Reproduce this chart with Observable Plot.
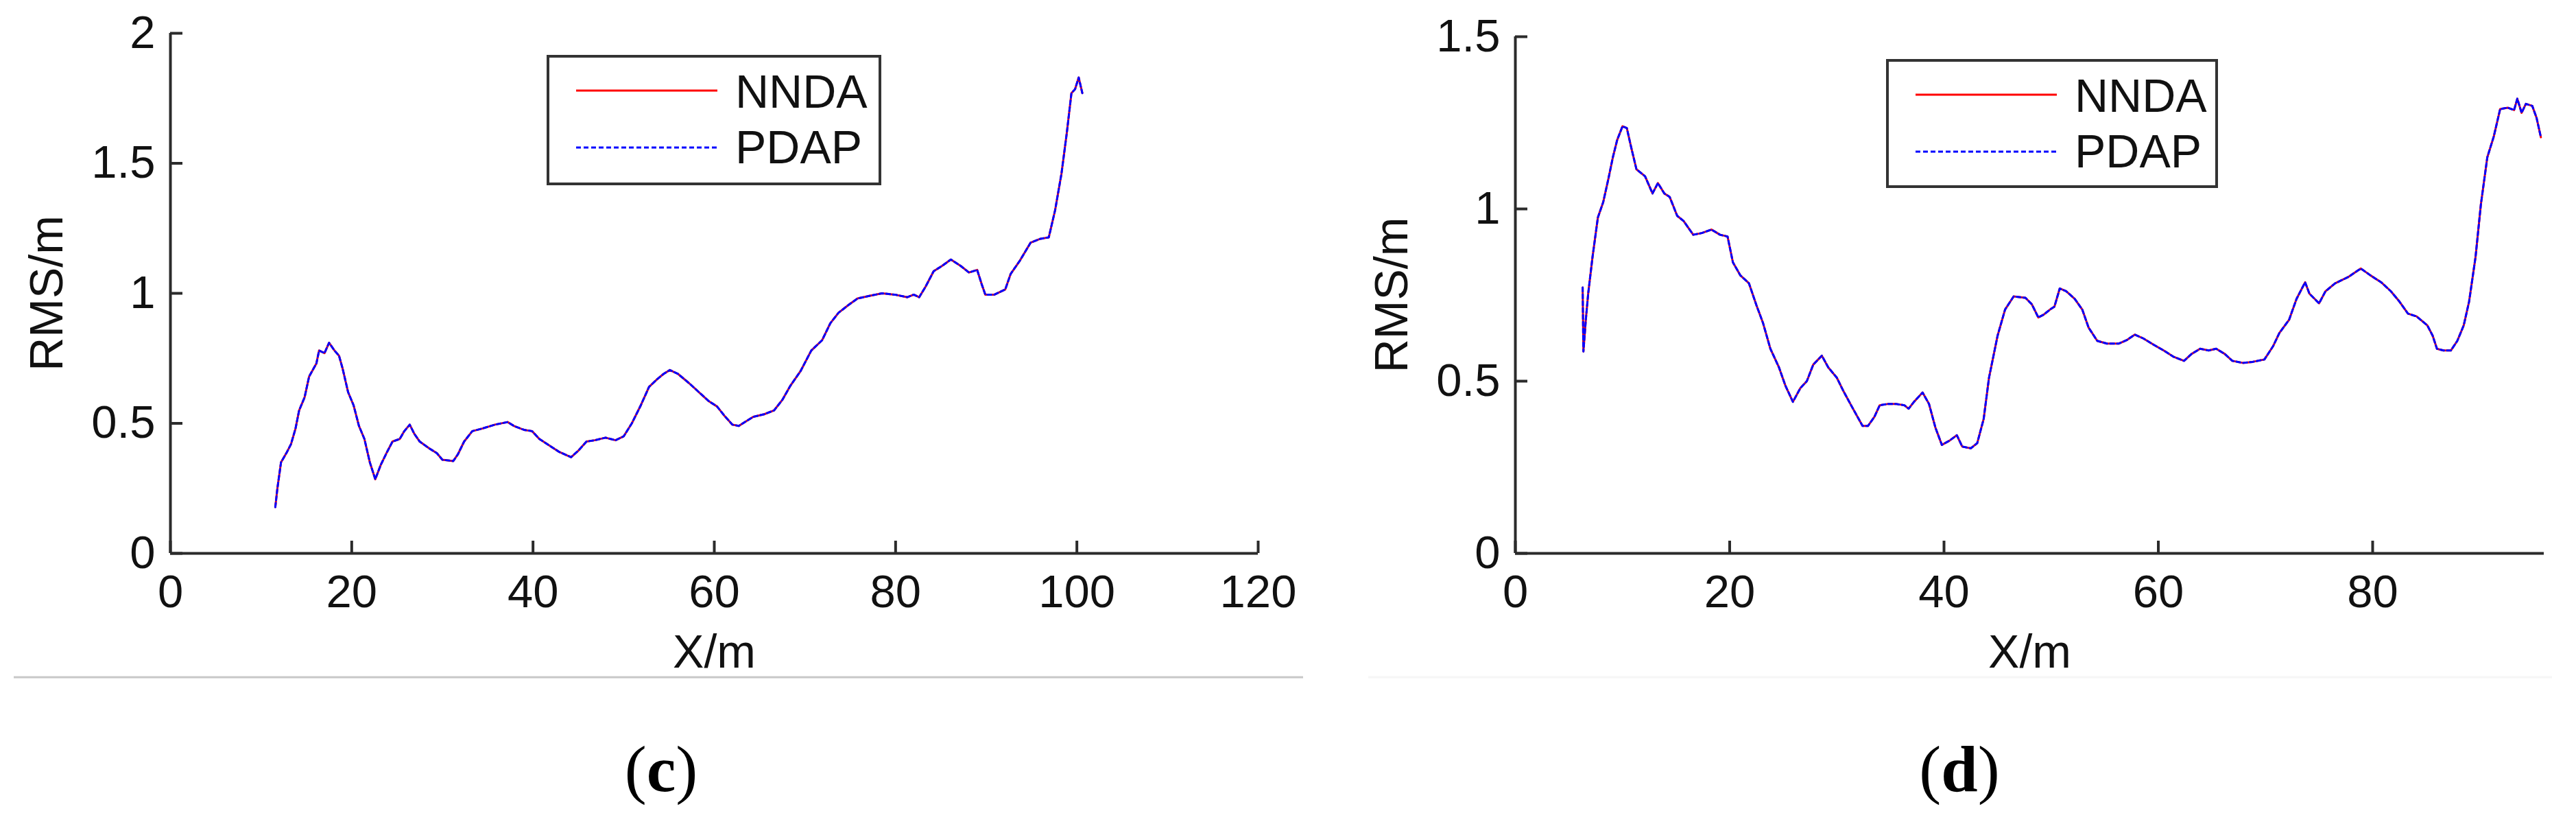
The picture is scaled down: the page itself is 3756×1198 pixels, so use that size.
<!DOCTYPE html>
<html>
<head>
<meta charset="utf-8">
<script src="https://cdn.jsdelivr.net/npm/d3@7"></script>
<script src="https://cdn.jsdelivr.net/npm/@observablehq/plot@0.6"></script>
<style>
  html, body { margin: 0; padding: 0; background: #fff; }
  #wrap { position: relative; width: 3756px; height: 1198px; overflow: hidden; background: #fff; }
  .panel { position: absolute; top: 0; }
  #overlay { position: absolute; left: 0; top: 0; pointer-events: none; }
</style>
</head>
<body>
<div id="wrap">
  <div id="left" class="panel" style="left:0px"></div>
  <div id="right" class="panel" style="left:1900px"></div>
  <svg id="overlay" width="3756" height="1198"></svg>
</div>
<script>
// ---------- Data: panel (c) ----------
const cX = [11.57, 11.8, 12.2, 12.86, 13.3, 13.8, 14.2, 14.8, 15.3, 16.1, 16.4, 17.0, 17.5, 18.1, 18.6, 19.0, 19.6, 20.2, 20.8, 21.4, 22.0, 22.6, 23.2, 23.9, 24.5, 25.3, 25.8, 26.4, 26.9, 27.5, 28.5, 29.4, 30.0, 31.2, 31.7, 32.4, 33.3, 34.4, 35.8, 37.2, 37.9, 39.0, 39.9, 40.7, 41.8, 42.9, 44.2, 45.0, 45.9, 46.8, 48.0, 49.1, 50.0, 50.9, 51.9, 52.8, 53.7, 54.4, 55.1, 56.0, 57.2, 58.3, 59.4, 60.3, 61.1, 62.0, 62.7, 63.6, 64.3, 65.5, 66.6, 67.5, 68.4, 69.5, 70.7, 71.9, 72.8, 73.7, 74.8, 75.8, 77.1, 78.5, 79.9, 81.3, 82.0, 82.6, 83.3, 84.2, 85.1, 86.1, 87.2, 88.1, 89.0, 89.5, 89.9, 90.9, 92.1, 92.7, 93.7, 94.9, 96.0, 96.9, 97.6, 98.3, 98.9, 99.4, 99.8, 100.2, 100.6];
const cNNDA = [0.178, 0.25, 0.35, 0.39, 0.42, 0.48, 0.55, 0.60, 0.68, 0.73, 0.78, 0.77, 0.81, 0.78, 0.76, 0.71, 0.62, 0.57, 0.49, 0.44, 0.35, 0.285, 0.34, 0.39, 0.43, 0.44, 0.47, 0.495, 0.46, 0.43, 0.405, 0.385, 0.36, 0.355, 0.38, 0.43, 0.47, 0.48, 0.495, 0.505, 0.49, 0.475, 0.47, 0.44, 0.415, 0.39, 0.37, 0.395, 0.43, 0.435, 0.445, 0.435, 0.45, 0.50, 0.57, 0.64, 0.67, 0.69, 0.705, 0.69, 0.655, 0.62, 0.585, 0.565, 0.53, 0.495, 0.49, 0.51, 0.525, 0.535, 0.55, 0.59, 0.645, 0.70, 0.78, 0.82, 0.885, 0.925, 0.955, 0.98, 0.99, 1.0, 0.995, 0.985, 0.995, 0.985, 1.025, 1.085, 1.105, 1.13, 1.105, 1.08, 1.09, 1.035, 0.995, 0.995, 1.015, 1.075, 1.125, 1.195, 1.21, 1.215, 1.32, 1.46, 1.62, 1.77, 1.785, 1.83, 1.77];
const cPDAP = cNNDA.slice(); // the two curves coincide in the figure
const cXTicks = [0, 20, 40, 60, 80, 100, 120];
const cYTicks = [0, 0.5, 1, 1.5, 2];

// ---------- Data: panel (d) ----------
const dX = [6.28, 6.35, 6.58, 6.8, 7.2, 7.7, 8.2, 8.7, 9.1, 9.5, 10.0, 10.4, 10.8, 11.3, 12.1, 12.8, 13.3, 13.9, 14.4, 15.1, 15.7, 16.6, 17.4, 18.3, 19.1, 19.8, 20.3, 21.0, 21.8, 22.5, 23.1, 23.8, 24.6, 25.2, 25.9, 26.6, 27.2, 27.8, 28.6, 29.2, 30.0, 30.6, 31.4, 32.4, 32.9, 33.5, 34.0, 34.8, 35.5, 36.3, 36.7, 37.2, 38.0, 38.6, 39.2, 39.8, 40.5, 41.2, 41.7, 42.5, 43.1, 43.7, 44.2, 45.0, 45.7, 46.5, 47.6, 48.2, 48.8, 49.3, 49.9, 50.3, 50.8, 51.4, 52.2, 52.9, 53.5, 54.3, 55.2, 56.3, 57.1, 57.8, 58.6, 59.6, 60.5, 61.4, 62.4, 63.1, 63.9, 64.7, 65.4, 66.2, 66.9, 67.9, 68.8, 69.9, 70.7, 71.3, 72.2, 72.9, 73.7, 74.1, 75.0, 75.6, 76.5, 77.7, 78.9, 79.8, 80.8, 81.7, 82.5, 83.3, 84.1, 85.1, 85.6, 86.0, 86.6, 87.3, 87.9, 88.5, 89.0, 89.6, 90.1, 90.7, 91.3, 91.9, 92.6, 93.2, 93.5, 93.9, 94.3, 94.9, 95.3, 95.7];
const dNNDA = [0.772, 0.586, 0.68, 0.755, 0.86, 0.975, 1.02, 1.09, 1.15, 1.20, 1.24, 1.235, 1.18, 1.115, 1.095, 1.045, 1.075, 1.045, 1.035, 0.98, 0.965, 0.925, 0.93, 0.94, 0.925, 0.92, 0.845, 0.807, 0.784, 0.72, 0.67, 0.594, 0.54, 0.487, 0.44, 0.48, 0.50, 0.548, 0.574, 0.54, 0.51, 0.472, 0.426, 0.37, 0.37, 0.396, 0.43, 0.434, 0.434, 0.43, 0.42, 0.44, 0.467, 0.434, 0.365, 0.315, 0.327, 0.343, 0.31, 0.305, 0.32, 0.39, 0.51, 0.632, 0.708, 0.746, 0.742, 0.723, 0.685, 0.693, 0.708, 0.716, 0.769, 0.761, 0.739, 0.708, 0.655, 0.617, 0.609, 0.609, 0.62, 0.635, 0.624, 0.605, 0.589, 0.571, 0.559, 0.579, 0.594, 0.589, 0.594, 0.579, 0.559, 0.553, 0.556, 0.563, 0.601, 0.64, 0.678, 0.739, 0.787, 0.754, 0.726, 0.761, 0.784, 0.802, 0.827, 0.807, 0.787, 0.761, 0.731, 0.696, 0.688, 0.662, 0.632, 0.594, 0.589, 0.589, 0.617, 0.662, 0.731, 0.86, 1.013, 1.15, 1.21, 1.29, 1.294, 1.287, 1.32, 1.279, 1.305, 1.299, 1.264, 1.208];
const dPDAP = dNNDA.slice();
const dXTicks = [0, 20, 40, 60, 80];
const dYTicks = [0, 0.5, 1, 1.5];

const seriesNames = ["NNDA", "PDAP"];
const seriesColors = ["#ff0000", "#0000ff"];
const captions = ["c", "d"];

const FONT = "'Liberation Sans', Arial, Helvetica, sans-serif";
const AXIS = "#2b2b2b";

function panel({xs, a, b, xDomain, yDomain, xTicks, yTicks, width, marginLeft, marginRight, marginTop}) {
  const height = 1000;
  const A = xs.map((x, i) => ({x, y: a[i]}));
  const B = xs.map((x, i) => ({x, y: b[i]}));
  return Plot.plot({
    width, height, marginLeft, marginRight, marginTop, marginBottom: 194,
    x: {domain: xDomain, label: null},
    y: {domain: yDomain, label: null},
    style: {fontFamily: FONT, fontSize: "67px", color: "#111", background: "transparent", overflow: "visible"},
    marks: [
      Plot.line(A, {x: "x", y: "y", stroke: seriesColors[0], strokeWidth: 3}),
      Plot.line(B, {x: "x", y: "y", stroke: seriesColors[1], strokeWidth: 3, strokeDasharray: "6,4"}),
      Plot.ruleY([yDomain[0]], {stroke: AXIS, strokeWidth: 4}),
      Plot.ruleX([xDomain[0]], {stroke: AXIS, strokeWidth: 4}),
      Plot.axisX(xTicks, {tickSize: -18, tickPadding: 49, strokeWidth: 4, stroke: AXIS, fontSize: 67, tickFormat: d => String(d), label: null}),
      Plot.axisY(yTicks, {tickSize: -18, tickPadding: 40, strokeWidth: 4, stroke: AXIS, fontSize: 67, tickFormat: d => String(d), label: null}),
      Plot.text(["RMS/m"], {text: d => d, frameAnchor: "left", dx: -206, rotate: -90, lineAnchor: "top", textAnchor: "middle", fontSize: 68, fill: "#111"}),
      Plot.text(["X/m"], {text: d => d, frameAnchor: "bottom", dy: 166, lineAnchor: "bottom", textAnchor: "middle", fontSize: 68, fill: "#111"})
    ]
  });
}

document.getElementById("left").append(panel({
  xs: cX, a: cNNDA, b: cPDAP, xDomain: [0, 120], yDomain: [0, 2],
  xTicks: cXTicks, yTicks: cYTicks, width: 1900, marginLeft: 248, marginRight: 66, marginTop: 48
}));
document.getElementById("right").append(panel({
  xs: dX, a: dNNDA, b: dPDAP, xDomain: [0, 96], yDomain: [0, 1.5],
  xTicks: dXTicks, yTicks: dYTicks, width: 1856, marginLeft: 309, marginRight: 47, marginTop: 53
}));

// ---------- Overlay: legends, separators, captions ----------
const ov = d3.select("#overlay");
// separator lines
ov.append("line").attr("x1", 20).attr("x2", 1900).attr("y1", 987).attr("y2", 987).attr("stroke", "#c8c8c8").attr("stroke-width", 3);
ov.append("line").attr("x1", 1995).attr("x2", 3721).attr("y1", 987).attr("y2", 987).attr("stroke", "#f6f6f6").attr("stroke-width", 3);

function legend(x, y, w, h) {
  const g = ov.append("g").attr("transform", `translate(${x},${y})`);
  g.append("rect").attr("x", 0).attr("y", 0).attr("width", w).attr("height", h)
    .attr("fill", "#fff").attr("stroke", "#333").attr("stroke-width", 4);
  seriesNames.forEach((name, i) => {
    const ly = i === 0 ? 50 : 133;
    g.append("line").attr("x1", 41).attr("x2", 247).attr("y1", ly).attr("y2", ly)
      .attr("stroke", seriesColors[i]).attr("stroke-width", 3)
      .attr("stroke-dasharray", i === 1 ? "7,4" : null);
    g.append("text").attr("x", 273).attr("y", i === 0 ? 75 : 156).text(name)
      .attr("font-family", FONT).attr("font-size", 68).attr("fill", "#111");
  });
}
legend(799, 82, 484, 186);
legend(2752, 88, 480, 184);

function caption(cx, label) {
  const t = ov.append("text").attr("x", cx).attr("y", 1153).attr("text-anchor", "middle")
    .attr("font-family", "'Liberation Serif', 'Times New Roman', serif").attr("font-size", 96).attr("fill", "#000");
  t.append("tspan").text("(");
  t.append("tspan").attr("font-weight", "bold").text(label);
  t.append("tspan").text(")");
}
caption(964, captions[0]);
caption(2857, captions[1]);
</script>
</body>
</html>
